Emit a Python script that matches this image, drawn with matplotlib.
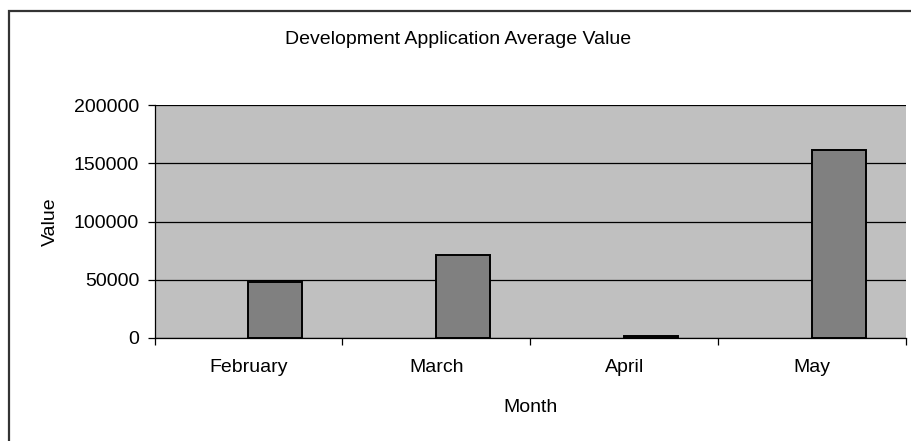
import matplotlib
matplotlib.use('Agg')
import matplotlib.pyplot as plt
from matplotlib.patches import Rectangle

# --- data ---
months = ["February", "March", "April", "May"]
avg_value = [48300, 71200, 2000, 161500]
y_ticks = [0, 50000, 100000, 150000, 200000]

plt.rcParams['font.family'] = ['Liberation Sans', 'DejaVu Sans']
FS = 14

W, H = 911, 441
fig = plt.figure(figsize=(W / 100, H / 100), dpi=100)

# Excel-style outer chart border (runs off the right/bottom edge)
fig.patches.append(Rectangle((9 / W, -0.1), 1.2, 1 - 11 / H + 0.1,
                             transform=fig.transFigure, fill=False,
                             edgecolor='#333333', linewidth=1.6))

ax = fig.add_axes([154.5 / W, 1 - 338 / H, (906 - 154.5) / W, (338 - 105) / H])
ax.set_facecolor('#C0C0C0')

# two-series clustered layout in Excel: visible bar sits right of centre
bar_w = 1 / 3.5
xs = [i + bar_w / 2 for i in range(len(months))]
ax.bar(xs, avg_value, width=bar_w, color='#808080', edgecolor='black',
       linewidth=1.4, zorder=3)

ax.set_xlim(-0.5, len(months) - 0.5)
ax.set_ylim(0, 200000)
ax.set_yticks(y_ticks)
ax.set_yticklabels([str(v) for v in y_ticks], fontsize=FS)
ax.yaxis.grid(True, color='black', linewidth=0.9, zorder=1)
ax.set_axisbelow(True)

ax.set_xticks(range(len(months)))
ax.set_xticklabels(months, fontsize=FS)
ax.tick_params(axis='x', which='major', length=0, pad=15)
ax.set_xticks([i - 0.5 for i in range(len(months) + 1)], minor=True)
ax.tick_params(axis='x', which='minor', length=5, width=0.9, direction='out')
ax.tick_params(axis='y', length=5, width=0.9, direction='out', pad=6)

for s in ['top', 'right']:
    ax.spines[s].set_visible(False)
ax.spines['left'].set_linewidth(0.9)
ax.spines['bottom'].set_linewidth(0.9)

ax.set_xlabel("Month", fontsize=FS, labelpad=17)
ax.set_ylabel("Value", fontsize=FS, labelpad=11)
fig.text(458 / W, 1 - 40 / H, "Development Application Average Value",
         fontsize=FS, ha='center', va='center')

fig.savefig("out.png", dpi=100)
